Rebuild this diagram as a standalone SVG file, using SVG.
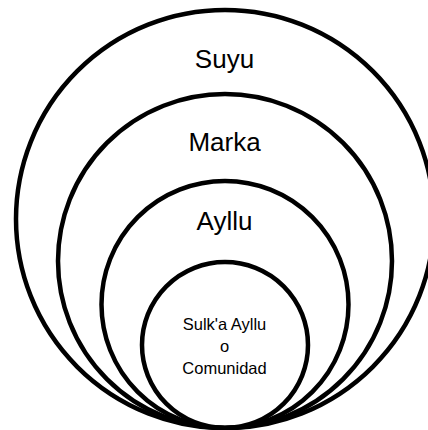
<svg xmlns="http://www.w3.org/2000/svg" width="428" height="430" viewBox="0 0 428 430">
  <style>
    .ring { fill: none; stroke: #000; stroke-width: 4.5; }
    .big { font-family: "Liberation Sans", Arial, sans-serif; font-size: 26px; fill: #000; text-anchor: middle; }
    .small { font-family: "Liberation Sans", Arial, sans-serif; font-size: 16.5px; fill: #000; text-anchor: middle; }
  </style>
  <rect width="428" height="430" fill="#fff"/>
  <g id="suyu">
    <circle class="ring" cx="225" cy="219" r="209"/>
    <text class="big" x="224.5" y="68">Suyu</text>
  </g>
  <g id="marka">
    <circle class="ring" cx="225" cy="261" r="167"/>
    <text class="big" x="224.5" y="151">Marka</text>
  </g>
  <g id="ayllu">
    <circle class="ring" cx="225" cy="304.5" r="123.5"/>
    <text class="big" x="224.5" y="230">Ayllu</text>
  </g>
  <g id="sulka-ayllu">
    <circle class="ring" cx="225" cy="345" r="83"/>
    <text class="small" x="224.5" y="330">Sulk'a Ayllu</text>
    <text class="small" x="224.5" y="352">o</text>
    <text class="small" x="224.5" y="373.5">Comunidad</text>
  </g>
  <g id="connectors"/>
</svg>
